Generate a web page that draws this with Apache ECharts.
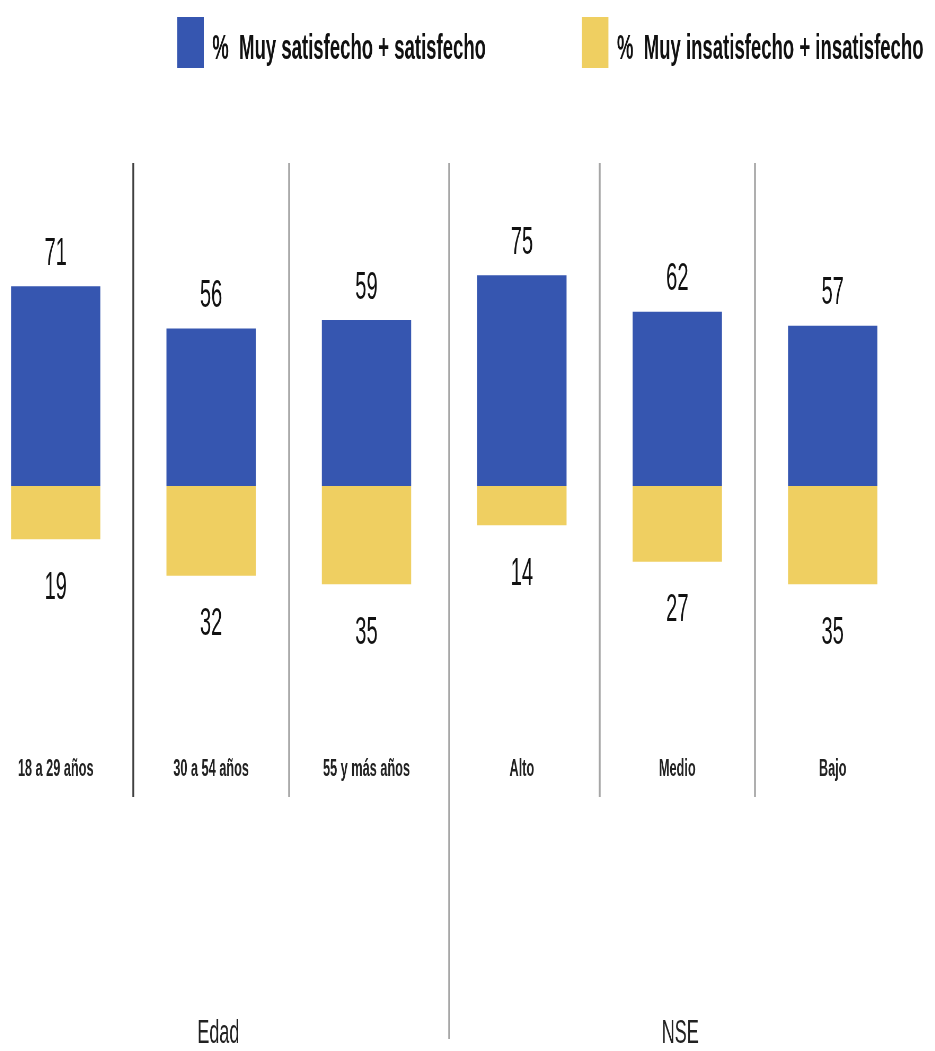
<!DOCTYPE html>
<html>
<head>
<meta charset="utf-8">
<script src="https://cdn.jsdelivr.net/npm/echarts@6/dist/echarts.min.js"></script>
<style>
  html, body { margin: 0; padding: 0; background: #ffffff; overflow: hidden; width: 935px; height: 1051px; position: relative; }
  #c { position: absolute; left: -22.4px; top: 0; width: 1806px; height: 1051px; transform: scaleX(0.53); transform-origin: 0 0; }
</style>
</head>
<body>
<div id="c"></div>
<script>
// ---- data ----
const categories = ['18 a 29 años', '30 a 54 años', '55 y más años', 'Alto', 'Medio', 'Bajo'];
const groups = ['Edad', 'NSE'];
const satisfied = [71, 56, 59, 75, 62, 57];
const dissatisfied = [19, 32, 35, 14, 27, 35];
const seriesNames = ['%  Muy satisfecho + satisfecho', '%  Muy insatisfecho + insatisfecho'];

const BLUE = '#3656b0';
const YELLOW = '#efcf61';
const FONT = 'Liberation Sans';

const chart = echarts.init(document.getElementById('c'), null, { renderer: 'canvas' });

chart.setOption({
  animation: false,
  backgroundColor: '#ffffff',
  legend: {
    left: 376,
    top: 17,
    padding: 0,
    itemWidth: 50,
    itemHeight: 51,
    itemGap: 181,
    icon: 'rect',
    data: seriesNames,
    formatter: name => '{t|' + name + '}',
    textStyle: {
      fontFamily: FONT,
      fontSize: 35,
      fontWeight: 'bold',
      color: '#111111',
      rich: {
        t: {
          fontFamily: FONT,
          fontSize: 35,
          fontWeight: 'bold',
          color: '#111111',
          padding: [14, 0, 0, 11]
        }
      }
    }
  },
  grid: [
    { left: 0, right: 46.8, top: 163, bottom: 254, containLabel: false },
    { left: 17.7, right: 45.3, top: 163, bottom: 11, containLabel: false }
  ],
  xAxis: [
    {
      type: 'category',
      gridIndex: 0,
      data: categories,
      axisLine: { show: false, onZero: false },
      axisTick: { show: false },
      axisLabel: {
        margin: -40,
        fontFamily: FONT,
        fontSize: 24,
        fontWeight: 'bold',
        color: '#222222',
        interval: 0
      },
      splitLine: {
        show: true,
        interval: function (idx) { return idx !== 0 && idx !== 3; },
        showMinLine: true,
        showMaxLine: false,
        lineStyle: { width: 3.5, color: ['#404040', '#a6a6a6', '#a6a6a6', '#a6a6a6'] }
      }
    },
    {
      type: 'category',
      gridIndex: 1,
      data: groups,
      axisLine: { show: false, onZero: false },
      axisTick: { show: false },
      axisLabel: {
        margin: -22,
        fontFamily: FONT,
        fontSize: 34,
        color: '#222222',
        interval: 0
      },
      splitLine: {
        show: true,
        interval: 0,
        showMinLine: false,
        showMaxLine: false,
        lineStyle: { width: 3.5, color: '#a6a6a6' }
      }
    }
  ],
  yAxis: [
    {
      type: 'value',
      gridIndex: 0,
      min: -110.7,
      max: 114.9,
      show: false,
      splitLine: { show: false }
    },
    {
      type: 'value',
      gridIndex: 1,
      min: 0,
      max: 1,
      show: false,
      splitLine: { show: false }
    }
  ],
  series: [
    {
      name: seriesNames[0],
      type: 'bar',
      xAxisIndex: 0,
      yAxisIndex: 0,
      data: satisfied,
      barWidth: 168.5,
      barGap: '-100%',
      itemStyle: { color: BLUE },
      label: {
        show: true,
        position: 'top',
        distance: 13,
        fontFamily: FONT,
        fontSize: 38,
        color: '#111111'
      }
    },
    {
      name: seriesNames[1],
      type: 'bar',
      xAxisIndex: 0,
      yAxisIndex: 0,
      data: dissatisfied.map(v => -v),
      barWidth: 168.5,
      barGap: '-100%',
      itemStyle: { color: YELLOW },
      label: {
        show: true,
        position: 'bottom',
        distance: 30,
        fontFamily: FONT,
        fontSize: 38,
        color: '#111111',
        formatter: p => String(Math.abs(p.value))
      }
    }
  ]
});
</script>
</body>
</html>
